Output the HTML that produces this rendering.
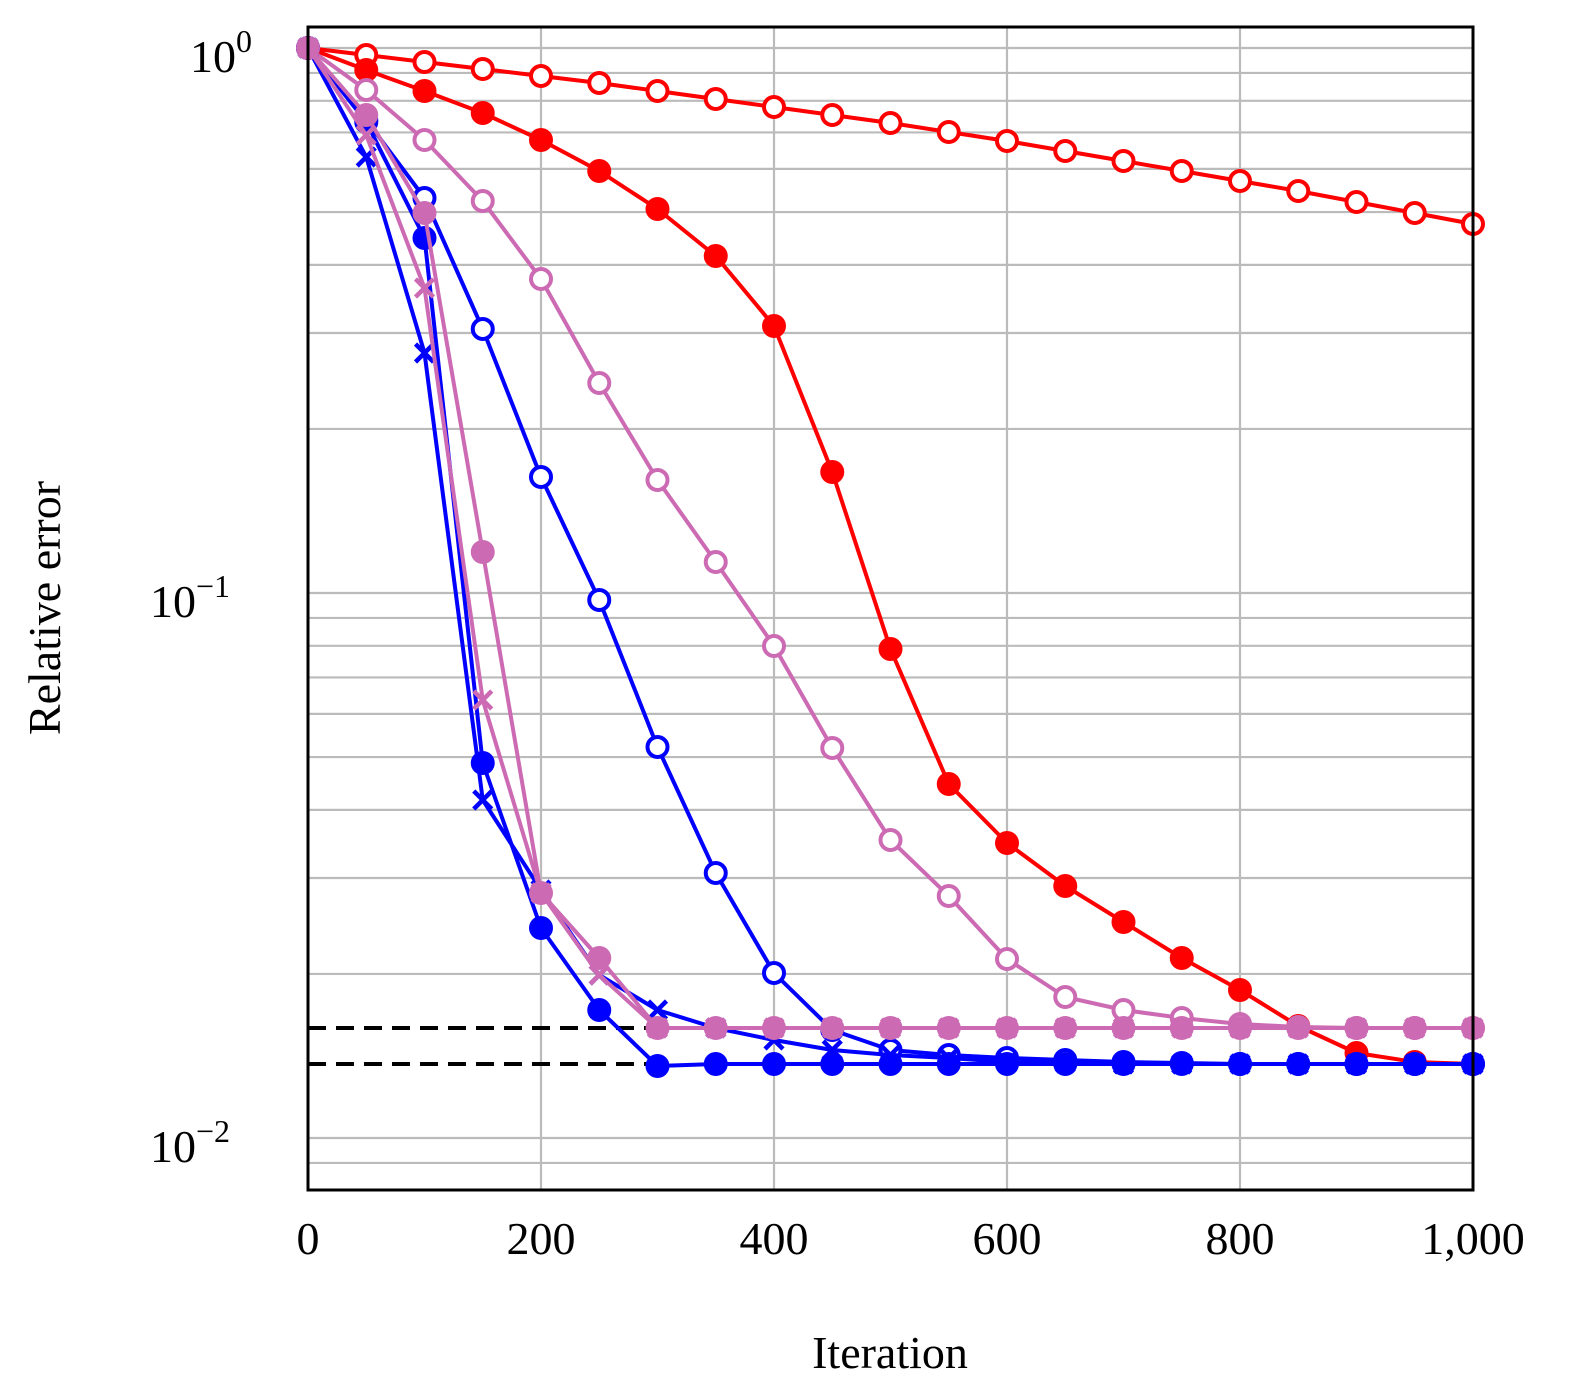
<!DOCTYPE html>
<html><head><meta charset="utf-8"><style>
html,body{margin:0;padding:0;background:#fff}
svg{display:block}
text{font-family:"Liberation Serif",serif;fill:#000}
</style></head><body>
<svg id="s" width="1575" height="1399" viewBox="0 0 1575 1399" xmlns="http://www.w3.org/2000/svg">
<g id="grid"></g>
<line x1="308" y1="1028" x2="660" y2="1028" stroke="#000" stroke-width="4" stroke-dasharray="18,10"/>
<line x1="308" y1="1064" x2="660" y2="1064" stroke="#000" stroke-width="4" stroke-dasharray="18,10"/>
<g id="series"></g>
<rect x="308" y="27" width="1165" height="1163" fill="none" stroke="#000" stroke-width="3"/>
<g font-size="46">
<text x="308" y="1254" text-anchor="middle">0</text>
<text x="541" y="1254" text-anchor="middle">200</text>
<text x="774" y="1254" text-anchor="middle">400</text>
<text x="1007" y="1254" text-anchor="middle">600</text>
<text x="1240" y="1254" text-anchor="middle">800</text>
<text x="1473" y="1254" text-anchor="middle">1,000</text>
<text x="190" y="72">10<tspan font-size="32" dy="-20">0</tspan></text>
<text x="150" y="617">10<tspan font-size="32" dy="-20">−1</tspan></text>
<text x="150" y="1162">10<tspan font-size="32" dy="-20">−2</tspan></text>
<text x="890" y="1368" text-anchor="middle">Iteration</text>
<text transform="translate(60,608) rotate(-90)" text-anchor="middle">Relative error</text>
</g>
</svg>
<script>
var NS="http://www.w3.org/2000/svg",g=document.getElementById("grid"),s=document.getElementById("series");
function el(p,t,a){var e=document.createElementNS(NS,t);for(var k in a)e.setAttribute(k,a[k]);p.appendChild(e);return e;}
function Y(v){return 48-Math.log10(v)*545;}
[200,400,600,800].forEach(function(v){var x=308+v*1.165;el(g,"line",{x1:x,x2:x,y1:27,y2:1190,stroke:"#bbb","stroke-width":2.2});});
var vals=[0.009];for(var k=-2;k<=0;k++)for(var m=1;m<=9;m++){var v=m*Math.pow(10,k);if(v<=1.0001)vals.push(v);}
vals.forEach(function(v){var y=Y(v);if(y>27&&y<1190)el(g,"line",{x1:308,x2:1473,y1:y,y2:y,stroke:"#bbb","stroke-width":2.2});});
var R="#ff0000",B="#0000ff",P="#cc6bb3";
function X(i){return 308+i*58.25;}
function ser(c,ys,type){
 var pts=ys.map(function(y,i){return X(i)+","+y;}).join(" ");
 el(s,"polyline",{points:pts,fill:"none",stroke:c,"stroke-width":4,"stroke-linejoin":"round"});
 ys.forEach(function(y,i){var x=X(i);
  if(type=="o")el(s,"circle",{cx:x,cy:y,r:10,fill:"#fff",stroke:c,"stroke-width":4});
  else if(type=="f")el(s,"circle",{cx:x,cy:y,r:12,fill:c});
  else {var d=9;el(s,"path",{d:"M"+(x-d)+","+(y-d)+"L"+(x+d)+","+(y+d)+"M"+(x-d)+","+(y+d)+"L"+(x+d)+","+(y-d),stroke:c,"stroke-width":4.5});}
 });}
function fill(a){while(a.length<21)a.push(a[a.length-1]);return a;}
ser(R,[48,55,62,69,76,83,91,99,107,115,123,132,141,151,161,171,181,191,202,213,224],"o");
ser(R,[48,70,91,113,140,171,209,256,326,472,649,784,843,886,922,958,990,1026,1053,1062,1064],"f");
ser(P,fill([48,90,140,201,279,383,480,562,646,748,840,896,959,997,1010,1018,1024,1027,1028]),"o");
ser(B,fill([48,120,198,329,477,600,747,873,973,1030,1050,1055,1058,1060,1062,1063,1064]),"o");
ser(B,fill([48,157,353,800,890,975,1010,1028,1040,1050,1055,1058,1062,1063,1064]),"x");
ser(B,fill([48,122,238,763,928,1010,1066,1064]),"f");
ser(P,fill([48,135,288,700,893,975,1028]),"x");
ser(P,fill([48,115,213,552,893,958,1028]),"f");
</script>
</body></html>
